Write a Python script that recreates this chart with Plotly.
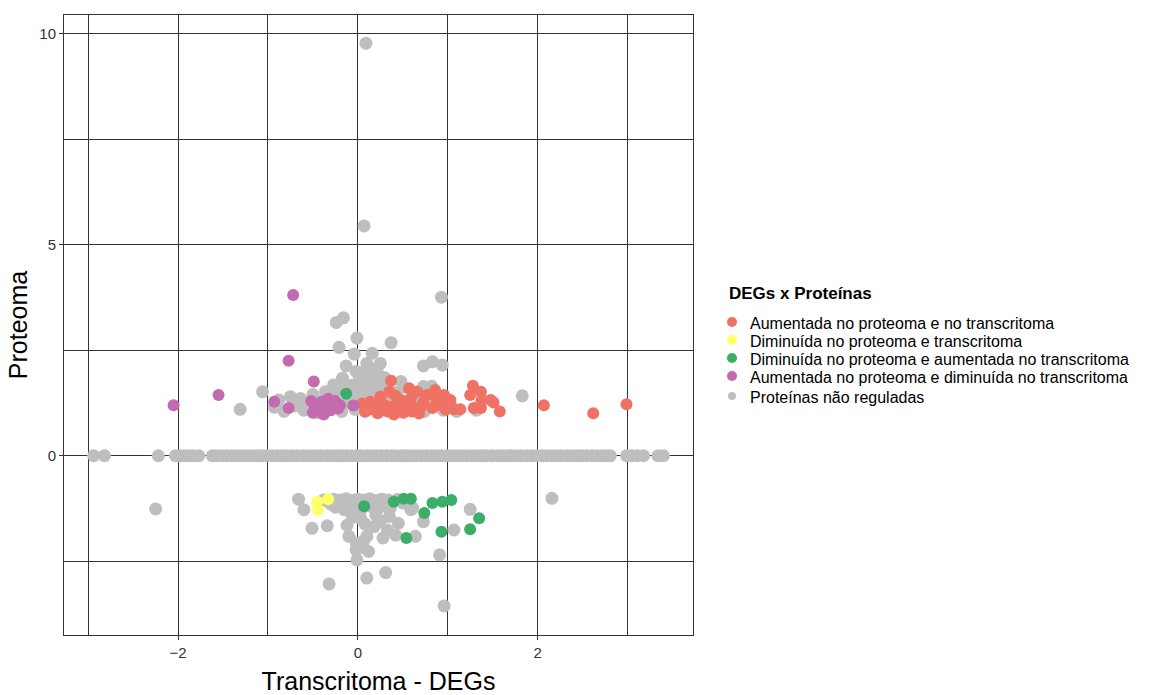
import plotly.graph_objects as go

# ---- data: log fold changes (transcriptome on x, proteome on y) ----

# proteins with no proteome change (y = 0), spread along the transcriptome axis
zero_x = [-2.94, -2.82, -2.22, -2.03, -1.98, -1.93, -1.88, -1.83, -1.77,
          -1.62, -1.57, -1.51, -1.46, -1.40, -1.35, -1.29, -1.23, -1.18, -1.12,
          -1.07, -1.01, -0.95, -0.90, -0.84, -0.79, -0.73, -0.68, -0.62, -0.57,
          -0.51, -0.45, -0.40, -0.34, -0.29, -0.23, -0.18, -0.12, -0.07, -0.01,
          0.04, 0.10, 0.15, 0.21, 0.26, 0.32, 0.38, 0.43, 0.49, 0.54, 0.60,
          0.65, 0.71, 0.77, 0.82, 0.88, 0.93, 0.99, 1.04, 1.10, 1.16, 1.21,
          1.27, 1.32, 1.38, 1.43, 1.49, 1.55, 1.60, 1.66, 1.71, 1.77, 1.82,
          1.88, 1.94, 1.99, 2.05, 2.10, 2.16, 2.22, 2.27, 2.33, 2.38, 2.44,
          2.49, 2.55, 2.61, 2.66, 2.72, 2.77, 2.81,
          2.99, 3.05, 3.11, 3.18, 3.34, 3.40]

# other non-regulated proteins
grey_x = [0.09, 0.07, 0.93, -0.24, -0.16, -0.01, 0.37, -0.21, -0.04, 0.16,
          -0.13, 0.10, 0.25, 0.73, 0.83, 0.94, -0.17, 0.05, 0.14, 0.22,
          -0.27, -0.06, 0.48, 0.73, 1.83, -1.06, -1.31,
          -0.93, -0.88, -0.82, -0.75, -0.70, -0.64, -0.60, -0.55, -0.50, -0.45,
          -0.40, -0.36, -0.31, -0.27, -0.22, -0.18, -0.14, -0.10, -0.08, -0.03,
          0.00, 0.03, 0.06, 0.08, 0.11, 0.13, 0.18, 0.20, 0.24, 0.27,
          0.30, 0.33, 0.38, 0.42, 0.46, 0.50, 0.55, 0.58, 0.62, 0.66,
          0.70, 0.74, 0.78, 0.82, 0.86, 0.90, 0.95, 1.00, 1.05, 1.10,
          1.32, 1.36, 0.02, 0.18, 0.12, -0.02, 0.30,
          -2.25, 2.16, -0.66, -0.60, -0.51, -0.34,
          -0.38, -0.27, -0.20, -0.13, -0.06, 0.00, 0.06, 0.13, 0.20, 0.27,
          0.34, 0.44, 0.50, -0.30, -0.25, -0.15, -0.05, 0.03, 0.15, 0.23,
          0.30, 0.36, 0.61, 0.59, 0.73, 1.07, 1.25, 0.64,
          -0.10, -0.02, 0.12, -0.02, 0.10, 0.03, 0.25, 0.33, 0.42, 0.35,
          0.18, -0.06, 0.06, 0.20, 0.45, 0.08, -0.12, 0.28, 0.02,
          -0.01, 0.91, 0.96, -0.32, 0.10, 0.31]
grey_y = [9.78, 5.45, 3.76, 3.16, 3.27, 2.79, 2.68, 2.57, 2.41, 2.43,
          2.13, 2.19, 2.19, 2.13, 2.23, 2.15, 1.84, 1.96, 1.80, 1.96,
          1.68, 1.68, 1.76, 1.64, 1.42, 1.52, 1.10,
          1.15, 1.32, 1.05, 1.40, 1.18, 1.36, 1.08, 1.25, 1.45, 1.02,
          1.30, 1.52, 1.12, 1.38, 1.58, 1.05, 1.25, 1.62, 1.42, 1.10,
          1.55, 1.30, 1.75, 1.05, 1.48, 1.62, 1.22, 1.55, 1.68, 1.08,
          1.40, 1.60, 1.22, 1.50, 1.05, 1.62, 1.30, 1.12, 1.45, 1.20,
          1.55, 1.05, 1.35, 1.65, 1.18, 1.42, 1.08, 1.28, 1.15, 1.05,
          1.08, 1.22, 1.85, 2.05, 1.90, 2.00, 1.85,
          -1.26, -1.01, -1.03, -1.28, -1.72, -1.66,
          -1.05, -1.03, -1.05, -1.02, -1.06, -1.03, -1.05, -1.02, -1.06, -1.03,
          -1.05, -1.04, -1.12, -1.15, -1.22, -1.28, -1.18, -1.30, -1.20, -1.24,
          -1.18, -1.25, -1.24, -1.28, -1.56, -1.76, -1.27, -1.91,
          -1.91, -2.07, -2.27, -2.23, -1.91, -1.48, -1.56, -1.76, -1.88, -1.44,
          -1.68, -1.46, -2.03, -1.40, -1.60, -1.62, -1.65, -1.95, -2.18,
          -2.47, -2.35, -3.56, -3.04, -2.90, -2.77]

# up in proteome and up in transcriptome
up_up_x = [0.37, 0.14, 0.05, 0.12, 0.25, 0.35, 0.38, 0.48, 0.57, 0.59,
           0.66, 0.64, 0.73, 0.77, 0.86, 0.88, 0.83, 0.96, 1.03, 0.98,
           1.07, 1.14, 1.28, 1.25, 1.37, 1.38, 1.29, 1.37, 1.48, 1.51,
           1.58, 2.07, 2.62, 2.99, 0.22, 0.40, 0.51, 0.68, 0.30, 0.45,
           0.55, 0.20, 0.08, 0.70, 0.92, 0.60, 0.33, 0.42]
up_up_y = [1.78, 1.28, 1.24, 1.09, 1.40, 1.52, 1.16, 1.32, 1.60, 1.36,
           1.52, 1.13, 1.28, 1.44, 1.56, 1.32, 1.13, 1.44, 1.32, 1.09,
           1.10, 1.10, 1.66, 1.44, 1.52, 1.34, 1.13, 1.13, 1.32, 1.26,
           1.05, 1.20, 1.01, 1.22, 1.01, 0.98, 1.02, 1.00, 1.20, 1.10,
           1.22, 1.15, 1.05, 1.15, 1.20, 1.05, 1.05, 1.42]

# down in proteome and down in transcriptome
down_down_x = [-0.45, -0.33, -0.45]
down_down_y = [-1.09, -1.03, -1.28]

# down in proteome, up in transcriptome
down_up_x = [-0.13, 0.07, 0.40, 0.51, 0.59, 0.83, 0.94, 1.04, 0.74, 1.35,
             0.93, 1.25, 0.54]
down_up_y = [1.47, -1.20, -1.09, -1.02, -1.02, -1.12, -1.09, -1.05, -1.36,
             -1.48, -1.80, -1.74, -1.95]

# up in proteome, down in transcriptome
up_down_x = [-2.05, -1.55, -0.93, -0.77, -0.77, -0.72, -0.49, -0.05,
             -0.52, -0.48, -0.45, -0.42, -0.40, -0.36, -0.33, -0.30, -0.28,
             -0.25, -0.22, -0.20, -0.50, -0.38, -0.34]
up_down_y = [1.20, 1.44, 1.28, 1.13, 2.25, 3.81, 1.76, 1.19,
             1.30, 1.12, 1.20, 1.05, 1.28, 1.15, 1.35, 1.08, 1.22,
             1.30, 1.12, 1.20, 1.02, 0.98, 1.25]

legend_title = "DEGs x Proteínas"
legend_labels = [
    "Aumentada no proteoma e no transcritoma",
    "Diminuída no proteoma e transcritoma",
    "Diminuída no proteoma e aumentada no transcritoma",
    "Aumentada no proteoma e diminuída no transcritoma",
    "Proteínas não reguladas",
]
colors = ["#F07264", "#FFFF66", "#3DAE6A", "#C36BAE", "#BEBEBE"]

FONT = "Liberation Sans, Arial, sans-serif"

# figure geometry (px) used to place the key beside the panel
W, H = 1153, 695
ML, MR, MT, MB = 64, 460, 15, 60
PW, PH = W - ML - MR, H - MT - MB


def px_x(px):
    return (px - ML) / PW


def px_y(py):
    return (H - MB - py) / PH


fig = go.Figure()

# non-regulated proteins underneath everything else
fig.add_trace(go.Scatter(
    x=zero_x + grey_x, y=[0] * len(zero_x) + grey_y,
    mode="markers", name=legend_labels[4], showlegend=False,
    marker=dict(color=colors[4], size=13, line=dict(width=0)),
))

groups = [(up_up_x, up_up_y), (down_down_x, down_down_y),
          (down_up_x, down_up_y), (up_down_x, up_down_y)]
for i, (gx, gy) in enumerate(groups):
    fig.add_trace(go.Scatter(
        x=gx, y=gy, mode="markers", name=legend_labels[i], showlegend=False,
        marker=dict(color=colors[i], size=12, line=dict(width=0)),
    ))

grid = "#333333"
axis_common = dict(
    showgrid=True, gridcolor=grid, gridwidth=1,
    zeroline=False, showline=True, mirror=True,
    linecolor=grid, linewidth=1,
    ticks="outside", ticklen=4, tickcolor=grid,
    tickfont=dict(family=FONT, size=15, color="#333333"),
)

fig.update_xaxes(
    range=[-3.27, 3.73], tick0=0, dtick=2,
    minor=dict(dtick=1, showgrid=True, gridcolor=grid, gridwidth=1),
    title=dict(text="Transcritoma - DEGs", standoff=14,
               font=dict(family=FONT, size=25, color="black")),
    **axis_common,
)
fig.update_yaxes(
    range=[-4.25, 10.45], tick0=0, dtick=5,
    minor=dict(dtick=2.5, showgrid=True, gridcolor=grid, gridwidth=1),
    title=dict(text="Proteoma", standoff=4,
               font=dict(family=FONT, size=25, color="black")),
    **axis_common,
)

# key: title, one dot and one label per group
fig.add_annotation(
    text="<b>" + legend_title + "</b>", xref="paper", yref="paper",
    x=px_x(727), y=px_y(293), xanchor="left", yanchor="middle",
    showarrow=False, font=dict(family=FONT, size=17, color="black"),
)
key_rows = [322, 340, 358, 376, 396]
key_dot = [10, 10, 10, 10, 8]
for lab, col, row, d in zip(legend_labels, colors, key_rows, key_dot):
    fig.add_shape(
        type="circle", xref="paper", yref="paper",
        xsizemode="pixel", ysizemode="pixel",
        xanchor=px_x(732), yanchor=px_y(row),
        x0=-d / 2, x1=d / 2, y0=-d / 2, y1=d / 2,
        fillcolor=col, line=dict(width=0),
    )
    fig.add_annotation(
        text=lab, xref="paper", yref="paper",
        x=px_x(748), y=px_y(row + 1), xanchor="left", yanchor="middle",
        showarrow=False, font=dict(family=FONT, size=16, color="black"),
    )

fig.update_layout(
    width=W, height=H,
    margin=dict(l=ML, r=MR, t=MT, b=MB, autoexpand=False),
    paper_bgcolor="white", plot_bgcolor="white",
    font=dict(family=FONT, color="black"),
    showlegend=False,
)

fig.write_html("out.html")
